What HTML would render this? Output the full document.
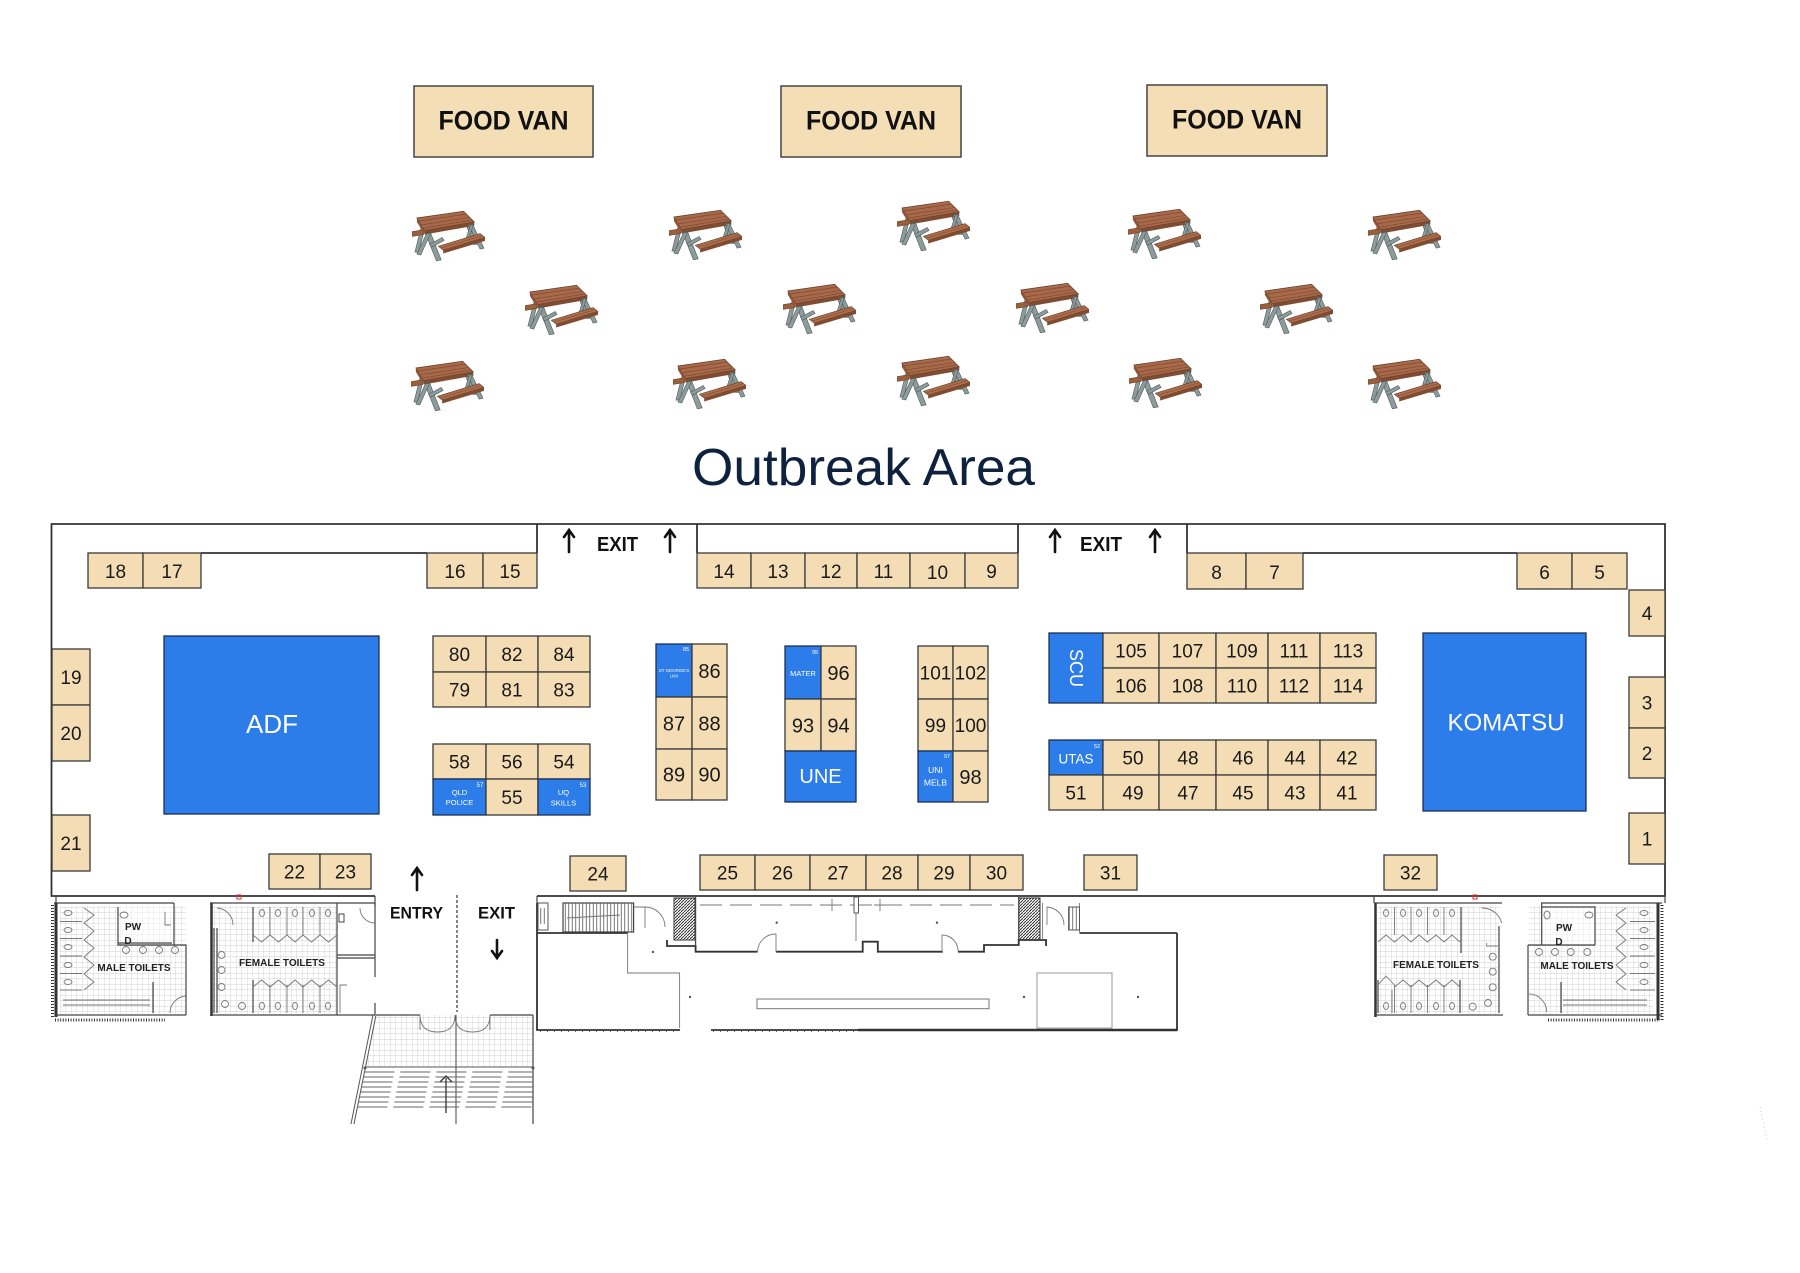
<!DOCTYPE html>
<html><head><meta charset="utf-8"><style>
html,body{margin:0;padding:0;background:#fff;}
svg{display:block;}
.b{fill:#f4ddb4;stroke:#3a3a3a;stroke-width:1.3;}
.bl{fill:#2c7de9;stroke:#1d2f55;stroke-width:1.3;}
.n{font-family:"Liberation Sans",sans-serif;font-size:19px;fill:#1a1a1a;text-anchor:middle;}
.n2{font-family:"Liberation Sans",sans-serif;font-size:20px;fill:#1a1a1a;text-anchor:middle;}
.w{font-family:"Liberation Sans",sans-serif;fill:#fff;text-anchor:middle;}
.bd{font-family:"Liberation Sans",sans-serif;font-weight:bold;fill:#111;text-anchor:middle;}
.tl{font-family:"Liberation Sans",sans-serif;font-weight:bold;font-size:10px;fill:#222;text-anchor:middle;}
.ln{stroke:#444;stroke-width:1.2;fill:none;}
.lt{stroke:#777;stroke-width:0.9;fill:none;}
.wall{stroke:#333;stroke-width:1.8;fill:none;}
</style></head><body>
<svg width="1800" height="1273" viewBox="0 0 1800 1273" xmlns="http://www.w3.org/2000/svg">
<defs>
<pattern id="grid" width="5.5" height="5.5" patternUnits="userSpaceOnUse"><path d="M5.5 0V5.5M0 5.5H5.5" stroke="#c2c2c2" stroke-width="0.7" fill="none"/></pattern>
<pattern id="hatch" width="3" height="3" patternUnits="userSpaceOnUse"><rect width="3" height="3" fill="#fff"/><path d="M0 3L3 0" stroke="#333" stroke-width="1"/></pattern>
<pattern id="vl" width="3.5" height="10" patternUnits="userSpaceOnUse"><path d="M1.75 0V10" stroke="#555" stroke-width="0.8"/></pattern>
<symbol id="pt" viewBox="0 0 75 55">
<g fill="#8d9b9b" stroke="#4d5a5a" stroke-width="0.6">
<polygon points="9,20 13,20 7,44 3,44"/>
<polygon points="55,14 59,14 67,36 63,36"/>
</g>
<polygon points="0,23 12,21 12,26 0,28" fill="#9c5f3c" stroke="#5b3a27" stroke-width="0.5"/>
<polygon points="5,9 53,2 64,13 13,22" fill="#a8694a" stroke="#5b3a27" stroke-width="0.7"/>
<path d="M7.5 12L56 5M10 16L59 8.5M12 19.5L61.5 11" stroke="#7a472e" stroke-width="0.6"/>
<polygon points="13,22 64,13 64,17 13,26" fill="#7f4c31"/>
<polygon points="5,9 13,22 13,26 5,13" fill="#8e5437"/>
<g fill="#8d9b9b" stroke="#4d5a5a" stroke-width="0.6">
<polygon points="14,25 19,24 30,52 25,53"/>
<polygon points="15,25 19,25 9,47 5,46"/>
<polygon points="18,36 31,29 33,32 20,39"/>
<polygon points="58,16 62,15 74,40 70,41"/>
<polygon points="60,16 63,16 57,35 54,35"/>
</g>
<polygon points="27,38 70,25 75,29 32,42" fill="#ad6d4b" stroke="#5b3a27" stroke-width="0.6"/>
<path d="M29.5 40L72.5 27" stroke="#7a472e" stroke-width="0.5"/>
<polygon points="32,42 75,29 75,32.5 32,45.5" fill="#7f4c31"/>
</symbol>
</defs>
<rect width="1800" height="1273" fill="#fff"/>

<!-- FOOD VANS -->
<g fill="#f4deb6" stroke="#444" stroke-width="1.5">
<rect x="414" y="86" width="179" height="71"/>
<rect x="781" y="86" width="180" height="71"/>
<rect x="1147" y="85" width="180" height="71"/>
</g>
<g class="bd" font-size="27">
<text x="503.5" y="129.5" textLength="130" lengthAdjust="spacingAndGlyphs">FOOD VAN</text>
<text x="871" y="129.5" textLength="130" lengthAdjust="spacingAndGlyphs">FOOD VAN</text>
<text x="1237" y="128.5" textLength="130" lengthAdjust="spacingAndGlyphs">FOOD VAN</text>
</g>

<!-- PICNIC TABLES -->
<use href="#pt" x="412" y="209" width="73" height="54"/>
<use href="#pt" x="669" y="208" width="73" height="54"/>
<use href="#pt" x="897" y="199" width="73" height="54"/>
<use href="#pt" x="1128" y="207" width="73" height="54"/>
<use href="#pt" x="1368" y="208" width="73" height="54"/>
<use href="#pt" x="525" y="283" width="73" height="54"/>
<use href="#pt" x="783" y="282" width="73" height="54"/>
<use href="#pt" x="1016" y="281" width="73" height="54"/>
<use href="#pt" x="1260" y="282" width="73" height="54"/>
<use href="#pt" x="411" y="359" width="73" height="54"/>
<use href="#pt" x="673" y="357" width="73" height="54"/>
<use href="#pt" x="897" y="354" width="73" height="54"/>
<use href="#pt" x="1129" y="356" width="73" height="54"/>
<use href="#pt" x="1368" y="357" width="73" height="54"/>

<text x="692" y="485" font-family="Liberation Sans, sans-serif" font-size="52" fill="#0e2240" textLength="343" lengthAdjust="spacingAndGlyphs">Outbreak Area</text>

<!-- FLOOR WALLS -->
<path class="wall" d="M375 896H51.5V524H1665V896H537"/>
<path class="wall" stroke-width="1.5" d="M201 553H427 M537 524V553 M697 524V553 M1018 524V553 M1187 524V553 M1303 553H1517"/>

<!-- EXIT arrows top -->
<g stroke="#111" stroke-width="2.6" fill="none" stroke-linecap="round">
<path d="M569 552V530M564 537L569 530L574 537"/>
<path d="M670 552V530M665 537L670 530L675 537"/>
<path d="M1055 552V530M1050 537L1055 530L1060 537"/>
<path d="M1155 552V530M1150 537L1155 530L1160 537"/>
<path d="M417 890V868M412 875L417 868L422 875"/>
<path d="M497 940V958M492 951L497 958L502 951"/>
</g>
<text class="bd" x="617.5" y="551" font-size="20" textLength="41" lengthAdjust="spacingAndGlyphs">EXIT</text>
<text class="bd" x="1101" y="551" font-size="20" textLength="42" lengthAdjust="spacingAndGlyphs">EXIT</text>
<text class="bd" x="416.5" y="918.5" font-size="17" textLength="53" lengthAdjust="spacingAndGlyphs">ENTRY</text>
<text class="bd" x="496.5" y="918.5" font-size="17" textLength="37" lengthAdjust="spacingAndGlyphs">EXIT</text>
<path d="M457 895V1012" stroke="#333" stroke-width="1.2" stroke-dasharray="3 2"/>

<!-- TOP ROW BOOTHS -->
<rect class="b" x="88" y="553" width="55" height="35"/><text class="n" x="115.5" y="578">18</text>
<rect class="b" x="143" y="553" width="58" height="35"/><text class="n" x="172" y="578">17</text>
<rect class="b" x="427" y="553" width="56" height="35"/><text class="n" x="455" y="578">16</text>
<rect class="b" x="483" y="553" width="54" height="35"/><text class="n" x="510" y="578">15</text>
<rect class="b" x="697" y="553" width="54" height="35"/><text class="n" x="724" y="578">14</text>
<rect class="b" x="751" y="553" width="54" height="35"/><text class="n" x="778" y="578">13</text>
<rect class="b" x="805" y="553" width="52" height="35"/><text class="n" x="831" y="578">12</text>
<rect class="b" x="857" y="553" width="53" height="35"/><text class="n" x="883.5" y="578">11</text>
<rect class="b" x="910" y="553" width="55" height="35"/><text class="n" x="937.5" y="579">10</text>
<rect class="b" x="965" y="553" width="53" height="35"/><text class="n" x="991.5" y="578">9</text>
<rect class="b" x="1187" y="553" width="59" height="36"/><text class="n" x="1216.5" y="579">8</text>
<rect class="b" x="1246" y="553" width="57" height="36"/><text class="n" x="1274.5" y="579">7</text>
<rect class="b" x="1517" y="553" width="55" height="36"/><text class="n" x="1544.5" y="579">6</text>
<rect class="b" x="1572" y="553" width="55" height="36"/><text class="n" x="1599.5" y="579">5</text>

<!-- SIDE BOOTHS -->
<rect class="b" x="52" y="649" width="38" height="56"/><text class="n" x="71" y="684">19</text>
<rect class="b" x="52" y="705" width="38" height="56"/><text class="n" x="71" y="740">20</text>
<rect class="b" x="52" y="815" width="38" height="56"/><text class="n" x="71" y="850">21</text>
<rect class="b" x="1629" y="590" width="36" height="46"/><text class="n" x="1647" y="620">4</text>
<rect class="b" x="1629" y="677" width="36" height="51"/><text class="n" x="1647" y="709.5">3</text>
<rect class="b" x="1629" y="728" width="36" height="50"/><text class="n" x="1647" y="760">2</text>
<rect class="b" x="1629" y="813" width="36" height="51"/><text class="n" x="1647" y="845.5">1</text>

<!-- BOTTOM ROW -->
<rect class="b" x="269" y="854" width="51" height="35"/><text class="n" x="294.5" y="878.5">22</text>
<rect class="b" x="320" y="854" width="51" height="35"/><text class="n" x="345.5" y="878.5">23</text>
<rect class="b" x="570" y="856" width="56" height="35"/><text class="n" x="598" y="880.5">24</text>
<rect class="b" x="700" y="855" width="55" height="35"/><text class="n" x="727.5" y="879.5">25</text>
<rect class="b" x="755" y="855" width="55" height="35"/><text class="n" x="782.5" y="879.5">26</text>
<rect class="b" x="810" y="855" width="56" height="35"/><text class="n" x="838" y="879.5">27</text>
<rect class="b" x="866" y="855" width="52" height="35"/><text class="n" x="892" y="879.5">28</text>
<rect class="b" x="918" y="855" width="52" height="35"/><text class="n" x="944" y="879.5">29</text>
<rect class="b" x="970" y="855" width="53" height="35"/><text class="n" x="996.5" y="879.5">30</text>
<rect class="b" x="1084" y="855" width="53" height="35"/><text class="n" x="1110.5" y="879.5">31</text>
<rect class="b" x="1384" y="855" width="53" height="35"/><text class="n" x="1410.5" y="879.5">32</text>

<!-- ADF / KOMATSU -->
<rect class="bl" x="164" y="636" width="215" height="178"/>
<text class="w" x="272" y="733" font-size="26">ADF</text>
<rect class="bl" x="1423" y="633" width="163" height="178"/>
<text class="w" x="1506" y="730.5" font-size="24">KOMATSU</text>

<!-- 80 block -->
<rect class="b" x="433" y="636" width="53" height="36"/><text class="n" x="459.5" y="661">80</text>
<rect class="b" x="486" y="636" width="52" height="36"/><text class="n" x="512" y="661">82</text>
<rect class="b" x="538" y="636" width="52" height="36"/><text class="n" x="564" y="661">84</text>
<rect class="b" x="433" y="672" width="53" height="35"/><text class="n" x="459.5" y="696.5">79</text>
<rect class="b" x="486" y="672" width="52" height="35"/><text class="n" x="512" y="696.5">81</text>
<rect class="b" x="538" y="672" width="52" height="35"/><text class="n" x="564" y="696.5">83</text>
<!-- 58 block -->
<rect class="b" x="433" y="744" width="53" height="35"/><text class="n" x="459.5" y="768.5">58</text>
<rect class="b" x="486" y="744" width="52" height="35"/><text class="n" x="512" y="768.5">56</text>
<rect class="b" x="538" y="744" width="52" height="35"/><text class="n" x="564" y="768.5">54</text>
<rect class="bl" x="433" y="779" width="53" height="36"/>
<text class="w" x="459.5" y="795" font-size="7.5">QLD</text><text class="w" x="459.5" y="805" font-size="7.5">POLICE</text><text class="w" x="480" y="787" font-size="6">57</text>
<rect class="b" x="486" y="779" width="52" height="36"/><text class="n" x="512" y="804">55</text>
<rect class="bl" x="538" y="779" width="52" height="36"/>
<text class="w" x="563.5" y="795" font-size="7.5">UQ</text><text class="w" x="563.5" y="805.5" font-size="7.5">SKILLS</text><text class="w" x="583" y="787" font-size="6">53</text>

<!-- Block A -->
<rect class="bl" x="656" y="644" width="36" height="53"/>
<text class="w" x="674" y="672" font-size="4.5">ST GEORGE'S</text><text class="w" x="674" y="677.5" font-size="4.5">UNI</text><text class="w" x="686" y="651" font-size="5.5">85</text>
<rect class="b" x="692" y="644" width="35" height="53"/><text class="n2" x="709.5" y="678">86</text>
<rect class="b" x="656" y="697" width="36" height="52"/><text class="n2" x="674" y="730.5">87</text>
<rect class="b" x="692" y="697" width="35" height="52"/><text class="n2" x="709.5" y="730.5">88</text>
<rect class="b" x="656" y="749" width="36" height="51"/><text class="n2" x="674" y="781.5">89</text>
<rect class="b" x="692" y="749" width="35" height="51"/><text class="n2" x="709.5" y="781.5">90</text>

<!-- Block B -->
<rect class="bl" x="785" y="646" width="36" height="53"/>
<text class="w" x="803" y="676" font-size="7.5">MATER</text><text class="w" x="815" y="654" font-size="5.5">95</text>
<rect class="b" x="821" y="646" width="35" height="53"/><text class="n2" x="838.5" y="680">96</text>
<rect class="b" x="785" y="699" width="36" height="52"/><text class="n2" x="803" y="732.5">93</text>
<rect class="b" x="821" y="699" width="35" height="52"/><text class="n2" x="838.5" y="732.5">94</text>
<rect class="bl" x="785" y="751" width="71" height="51"/><text class="w" x="820.5" y="783" font-size="20">UNE</text>

<!-- Block C -->
<rect class="b" x="918" y="646" width="35" height="53"/><text class="n" x="935.5" y="679.5">101</text>
<rect class="b" x="953" y="646" width="35" height="53"/><text class="n" x="970.5" y="679.5">102</text>
<rect class="b" x="918" y="699" width="35" height="52"/><text class="n" x="935.5" y="732">99</text>
<rect class="b" x="953" y="699" width="35" height="52"/><text class="n" x="970.5" y="732">100</text>
<rect class="bl" x="918" y="751" width="35" height="51"/>
<text class="w" x="935.5" y="773" font-size="8.5">UNI</text><text class="w" x="935.5" y="785.5" font-size="8.5">MELB</text><text class="w" x="947" y="758" font-size="5.5">97</text>
<rect class="b" x="953" y="751" width="35" height="51"/><text class="n2" x="970.5" y="784">98</text>

<!-- SCU block -->
<rect class="bl" x="1049" y="633" width="54" height="70"/>
<text class="w" font-size="18" transform="translate(1070,668) rotate(90)" x="0" y="0">SCU</text>
<rect class="b" x="1103" y="633" width="56" height="35"/><text class="n" x="1131" y="657.5">105</text>
<rect class="b" x="1159" y="633" width="57" height="35"/><text class="n" x="1187.5" y="657.5">107</text>
<rect class="b" x="1216" y="633" width="52" height="35"/><text class="n" x="1242" y="657.5">109</text>
<rect class="b" x="1268" y="633" width="52" height="35"/><text class="n" x="1294" y="657.5">111</text>
<rect class="b" x="1320" y="633" width="56" height="35"/><text class="n" x="1348" y="657.5">113</text>
<rect class="b" x="1103" y="668" width="56" height="35"/><text class="n" x="1131" y="692.5">106</text>
<rect class="b" x="1159" y="668" width="57" height="35"/><text class="n" x="1187.5" y="692.5">108</text>
<rect class="b" x="1216" y="668" width="52" height="35"/><text class="n" x="1242" y="692.5">110</text>
<rect class="b" x="1268" y="668" width="52" height="35"/><text class="n" x="1294" y="692.5">112</text>
<rect class="b" x="1320" y="668" width="56" height="35"/><text class="n" x="1348" y="692.5">114</text>

<!-- UTAS block -->
<rect class="bl" x="1049" y="740" width="54" height="35"/>
<text class="w" x="1076" y="763.5" font-size="13.5">UTAS</text><text class="w" x="1097" y="748" font-size="5.5">52</text>
<rect class="b" x="1103" y="740" width="56" height="35"/><text class="n" x="1133" y="764.5">50</text>
<rect class="b" x="1159" y="740" width="57" height="35"/><text class="n" x="1188" y="764.5">48</text>
<rect class="b" x="1216" y="740" width="52" height="35"/><text class="n" x="1243" y="764.5">46</text>
<rect class="b" x="1268" y="740" width="52" height="35"/><text class="n" x="1295" y="764.5">44</text>
<rect class="b" x="1320" y="740" width="56" height="35"/><text class="n" x="1347" y="764.5">42</text>
<rect class="b" x="1049" y="775" width="54" height="35"/><text class="n" x="1076" y="799.5">51</text>
<rect class="b" x="1103" y="775" width="56" height="35"/><text class="n" x="1133" y="799.5">49</text>
<rect class="b" x="1159" y="775" width="57" height="35"/><text class="n" x="1188" y="799.5">47</text>
<rect class="b" x="1216" y="775" width="52" height="35"/><text class="n" x="1243" y="799.5">45</text>
<rect class="b" x="1268" y="775" width="52" height="35"/><text class="n" x="1295" y="799.5">43</text>
<rect class="b" x="1320" y="775" width="56" height="35"/><text class="n" x="1347" y="799.5">41</text>

<!-- ============ LOWER BUILDING LINE ART ============ -->
<!-- top double lines -->
<path class="ln" d="M54 903H174 M210 903H375 M1374 903H1502 M1541 903H1662 M1665 896V903"/>
<path class="ln" d="M56 896V903 M375 896V906 M537 896V906 M1374 896V903"/>
<rect x="237" y="895" width="4" height="4" fill="none" stroke="#e03030" stroke-width="1"/>
<rect x="1473" y="895" width="4" height="4" fill="none" stroke="#e03030" stroke-width="1"/>

<!-- LEFT MALE TOILETS -->
<rect x="60" y="906" width="126" height="108" fill="url(#grid)"/>
<rect x="119" y="907" width="53" height="36" fill="#fff"/>
<rect x="119" y="907" width="53" height="36" fill="url(#grid)" opacity="0.5"/>
<path d="M56 903V1017" stroke="#333" stroke-width="3"/>
<path d="M52.5 905V1018" stroke="#333" stroke-width="3" stroke-dasharray="1 2"/>
<path class="ln" d="M174 903V945 M118 907V945H186V1015 M56 1015H186 M118 943H172"/>
<path d="M55 1020H165" stroke="#333" stroke-width="3" stroke-dasharray="1 1.6"/>
<path class="lt" d="M60 921.5H82 M60 938.5H82 M60 956H82 M60 973.5H82 M60 990H82"/>
<path class="lt" d="M84 908L94 915L84 923L94 931L84 940L94 948L84 957L94 965L84 974L94 982L84 990"/>
<g class="lt"><ellipse cx="68" cy="913" rx="4" ry="2.5"/><ellipse cx="68" cy="930" rx="4" ry="2.5"/><ellipse cx="68" cy="947" rx="4" ry="2.5"/><ellipse cx="68" cy="965" rx="4" ry="2.5"/><ellipse cx="68" cy="982" rx="4" ry="2.5"/>
<circle cx="126" cy="950" r="3.5"/><circle cx="143" cy="950" r="3.5"/><circle cx="159" cy="950" r="3.5"/><circle cx="175" cy="950" r="3.5"/>
<path d="M170 1013A17 17 0 0 1 187 996"/><path d="M63 1000H150M63 1005H150"/>
<ellipse cx="124" cy="915" rx="4" ry="3"/><path d="M165 912V925H171"/></g>
<path class="ln" d="M153 982V1013"/>
<text class="tl" x="134" y="971">MALE TOILETS</text>
<text class="tl" x="133" y="930" font-size="9.5">PW</text>
<text class="tl" x="128" y="944" font-size="9.5">D</text>

<!-- LEFT FEMALE TOILETS -->
<rect x="213" y="906" width="124" height="108" fill="url(#grid)"/>
<path d="M211.5 903V1016" stroke="#333" stroke-width="2.5"/>
<path class="ln" d="M210 1015H375 M337 903V1015 M375 903V977 M375 1003V1015 M214 928V1013 M217 928V1013 M337 955H375 M337 958H375 M253 907V942 M253 980V1013"/>
<path class="lt" d="M270 907V935 M287 907V935 M303 907V935 M320 907V935 M270 985V1013 M287 985V1013 M303 985V1013 M320 985V1013"/>
<path class="lt" d="M253 935L261.5 942L270 935L278.5 942L287 935L295 942L303 935L311.5 942L320 935L328.5 942L337 935 M253 987L261.5 980L270 987L278.5 980L287 987L295 980L303 987L311.5 980L320 987L328.5 980L337 987"/>
<g class="lt"><ellipse cx="262" cy="913" rx="2.5" ry="3.5"/><ellipse cx="278" cy="913" rx="2.5" ry="3.5"/><ellipse cx="295" cy="913" rx="2.5" ry="3.5"/><ellipse cx="312" cy="913" rx="2.5" ry="3.5"/><ellipse cx="328" cy="913" rx="2.5" ry="3.5"/>
<ellipse cx="262" cy="1006" rx="2.5" ry="3.5"/><ellipse cx="278" cy="1006" rx="2.5" ry="3.5"/><ellipse cx="295" cy="1006" rx="2.5" ry="3.5"/><ellipse cx="312" cy="1006" rx="2.5" ry="3.5"/><ellipse cx="328" cy="1006" rx="2.5" ry="3.5"/>
<circle cx="221.5" cy="955" r="3.5"/><circle cx="221.5" cy="970" r="3.5"/><circle cx="221.5" cy="987" r="3.5"/><circle cx="225" cy="1004" r="3.5"/><circle cx="242" cy="1006" r="3.5"/>
<path d="M217 908A17 17 0 0 1 233 925"/><path d="M360 908A15 15 0 0 0 375 923"/><path d="M340 1013V985H347"/></g>
<rect x="339" y="914" width="5" height="8" fill="none" stroke="#444" stroke-width="1"/>
<text class="tl" x="282" y="966">FEMALE TOILETS</text>

<!-- STAIRS / ENTRY -->
<polygon points="376,1015 533,1015 533,1067 365.4,1067" fill="url(#grid)"/>
<path d="M376 1015L354 1124 M373 1015L351 1124" stroke="#555" stroke-width="1"/>
<path class="ln" d="M376 1015H420 M490 1015H533 M533 1015V1124"/>
<path class="lt" d="M420 1015V1030 M490 1015V1030 M420 1015Q420 1032 437.5 1032Q455 1032 455 1015 M455 1015Q455 1032 472.5 1032Q490 1032 490 1015"/>
<path d="M456 1015V1124" stroke="#444" stroke-width="1"/>
<path d="M364.4 1072H533 M363.4 1077H533 M362.4 1082H533 M361.4 1087H533 M360.4 1092H533 M359.4 1097H533 M358.4 1102H533 M357.3 1107H533" stroke="#666" stroke-width="1" stroke-dasharray="30 6"/>
<path d="M365 1067H533" stroke="#555" stroke-width="1"/>
<path d="M446 1078V1113 M440 1082L446 1076L452 1082" stroke="#333" stroke-width="1.3" fill="none"/>
<circle cx="365" cy="1068" r="1.5" fill="#555"/><circle cx="533" cy="1068" r="1.5" fill="#555"/>

<!-- CENTRAL LOWER BUILDING -->
<path class="wall" stroke-width="1.4" d="M537 903V1030H680 M711 1030H1177V933 M537 933H627.6 M1079.5 933H1177"/>
<path d="M858 1030H1177" stroke="#333" stroke-width="2.5"/>
<path d="M540 1031.5H678 M713 1031.5H858" stroke="#666" stroke-width="1" stroke-dasharray="1 6"/>
<path class="lt" d="M627.6 933V973H679.6V1028"/>
<rect x="757" y="999" width="232" height="9.7" fill="none" stroke="#777" stroke-width="1"/>
<rect x="1037" y="973" width="75" height="55" fill="none" stroke="#999" stroke-width="1"/>
<rect x="563" y="903" width="70.6" height="29" fill="url(#vl)" stroke="#444" stroke-width="1.2"/>
<path class="lt" d="M567 918L620 915"/>
<rect x="538" y="903" width="10" height="27" fill="none" stroke="#555" stroke-width="1"/>
<rect x="540" y="908" width="5" height="16" fill="url(#vl)"/>
<path class="lt" d="M634 907H645 M645 907V928 M645 907A20 20 0 0 1 665 927"/>
<rect x="674" y="898" width="21" height="42" fill="url(#hatch)" stroke="#333" stroke-width="1"/>
<rect x="1019" y="898" width="21" height="42" fill="url(#hatch)" stroke="#333" stroke-width="1"/>
<path class="wall" stroke-width="1.8" d="M667 940V946H695.6V951.7H757.6 M776 951.7H862.7V941.7H877.8V951.7H942.8 M958 951.7H984V945H1018.7V940H1046V946"/>
<path class="ln" d="M695.6 897V946 M1018.7 897V940"/>
<path class="lt" d="M757.6 951.7A18 18 0 0 1 776 934 M776 934V951.7 M958 951.7A16 16 0 0 0 942 935 M942 935V951.7"/>
<path d="M700 905H1014" stroke="#777" stroke-width="1" stroke-dasharray="22 8"/>
<path class="lt" d="M856 897V941 M832 899V911 M826 905H838 M880 899V911 M874 905H886"/>
<rect x="854" y="897" width="4.5" height="16" fill="#fff" stroke="#555" stroke-width="1"/>
<path class="lt" d="M1042.6 903V940 M1047 907A18 18 0 0 1 1064 925 M1047 907V925 M1079.5 903V933"/>
<rect x="1068.6" y="907" width="10.9" height="23" fill="url(#vl)" stroke="#555" stroke-width="1"/>
<g fill="#555"><circle cx="776.7" cy="922.7" r="1.2"/><circle cx="937" cy="922.7" r="1.2"/><circle cx="653" cy="952" r="1.2"/><circle cx="690" cy="997" r="1.2"/><circle cx="1024" cy="997" r="1.2"/><circle cx="1138" cy="997" r="1.2"/></g>

<!-- RIGHT FEMALE TOILETS -->
<rect x="1378" y="906" width="121" height="108" fill="url(#grid)"/>
<path d="M1375.5 903V1017" stroke="#333" stroke-width="2.5"/>
<path class="ln" d="M1374 1015H1503 M1499 926V1013 M1461 907V953 M1460 980V1013 M1378 980V1013"/>
<path class="lt" d="M1394.5 907V935 M1411 907V935 M1427.5 907V935 M1444 907V935 M1394.5 985V1013 M1411 985V1013 M1427.5 985V1013 M1444 985V1013 M1392 990V1013"/>
<path class="lt" d="M1378 942L1386 935L1394.5 942L1403 935L1411 942L1419 935L1427.5 942L1436 935L1444 942L1452 935L1460 942 M1394.5 987L1403 980L1411 987L1419 980L1427.5 987L1436 980L1444 987L1452 980L1460 987 M1378 985L1386 976L1394.5 985"/>
<g class="lt"><ellipse cx="1386" cy="913" rx="2.5" ry="3.5"/><ellipse cx="1403" cy="913" rx="2.5" ry="3.5"/><ellipse cx="1419" cy="913" rx="2.5" ry="3.5"/><ellipse cx="1436" cy="913" rx="2.5" ry="3.5"/><ellipse cx="1452" cy="913" rx="2.5" ry="3.5"/>
<ellipse cx="1386" cy="1006" rx="2.5" ry="3.5"/><ellipse cx="1403" cy="1006" rx="2.5" ry="3.5"/><ellipse cx="1419" cy="1006" rx="2.5" ry="3.5"/><ellipse cx="1436" cy="1006" rx="2.5" ry="3.5"/><ellipse cx="1452" cy="1006" rx="2.5" ry="3.5"/>
<circle cx="1492.7" cy="956.7" r="3.5"/><circle cx="1492.7" cy="971.7" r="3.5"/><circle cx="1492.7" cy="987.3" r="3.5"/><circle cx="1488" cy="1003" r="3.5"/><circle cx="1472.7" cy="1006.7" r="3.5"/>
<path d="M1501.7 923A20 20 0 0 0 1481.7 908"/><path d="M1486.7 943V946H1498"/></g>
<text class="tl" x="1436" y="968">FEMALE TOILETS</text>

<!-- RIGHT MALE TOILETS -->
<rect x="1529" y="906" width="124" height="108" fill="url(#grid)"/>
<rect x="1542" y="907" width="53" height="38" fill="#fff"/>
<rect x="1542" y="907" width="53" height="38" fill="url(#grid)" opacity="0.5"/>
<path class="ln" d="M1541.7 903V945 M1541.7 907H1595V945 M1528 945H1595 M1528 945V1015 M1528 1015H1662"/>
<path d="M1658 903V1020" stroke="#333" stroke-width="3"/>
<path d="M1662 905V1020" stroke="#333" stroke-width="3" stroke-dasharray="1 2"/>
<path d="M1548 1020H1660" stroke="#333" stroke-width="3" stroke-dasharray="1 1.6"/>
<path class="lt" d="M1630 921.5H1655 M1630 938.5H1655 M1630 956H1655 M1630 973.5H1655 M1630 990H1655"/>
<path class="lt" d="M1626 908L1616 915L1626 923L1616 931L1626 940L1616 948L1626 957L1616 965L1626 974L1616 982L1626 990"/>
<g class="lt"><ellipse cx="1644" cy="913" rx="4" ry="2.5"/><ellipse cx="1644" cy="930" rx="4" ry="2.5"/><ellipse cx="1644" cy="947" rx="4" ry="2.5"/><ellipse cx="1644" cy="965" rx="4" ry="2.5"/><ellipse cx="1644" cy="982" rx="4" ry="2.5"/>
<circle cx="1539" cy="952" r="3.5"/><circle cx="1555" cy="952" r="3.5"/><circle cx="1570.7" cy="952" r="3.5"/><circle cx="1587.3" cy="952" r="3.5"/>
<path d="M1528 994A18 18 0 0 1 1546.7 1012"/><path d="M1563 1000H1647M1563 1005H1647"/>
<ellipse cx="1589" cy="915" rx="4" ry="3"/><ellipse cx="1547" cy="915" rx="3" ry="4"/></g>
<path class="ln" d="M1561 982V1013"/>
<text class="tl" x="1577" y="969">MALE TOILETS</text>
<text class="tl" x="1564" y="931" font-size="9.5">PW</text>
<text class="tl" x="1559" y="945" font-size="9.5">D</text>

<path d="M1760 1107L1767 1140" stroke="#bbb" stroke-width="0.8" stroke-dasharray="1 3"/>
</svg>
</body></html>
